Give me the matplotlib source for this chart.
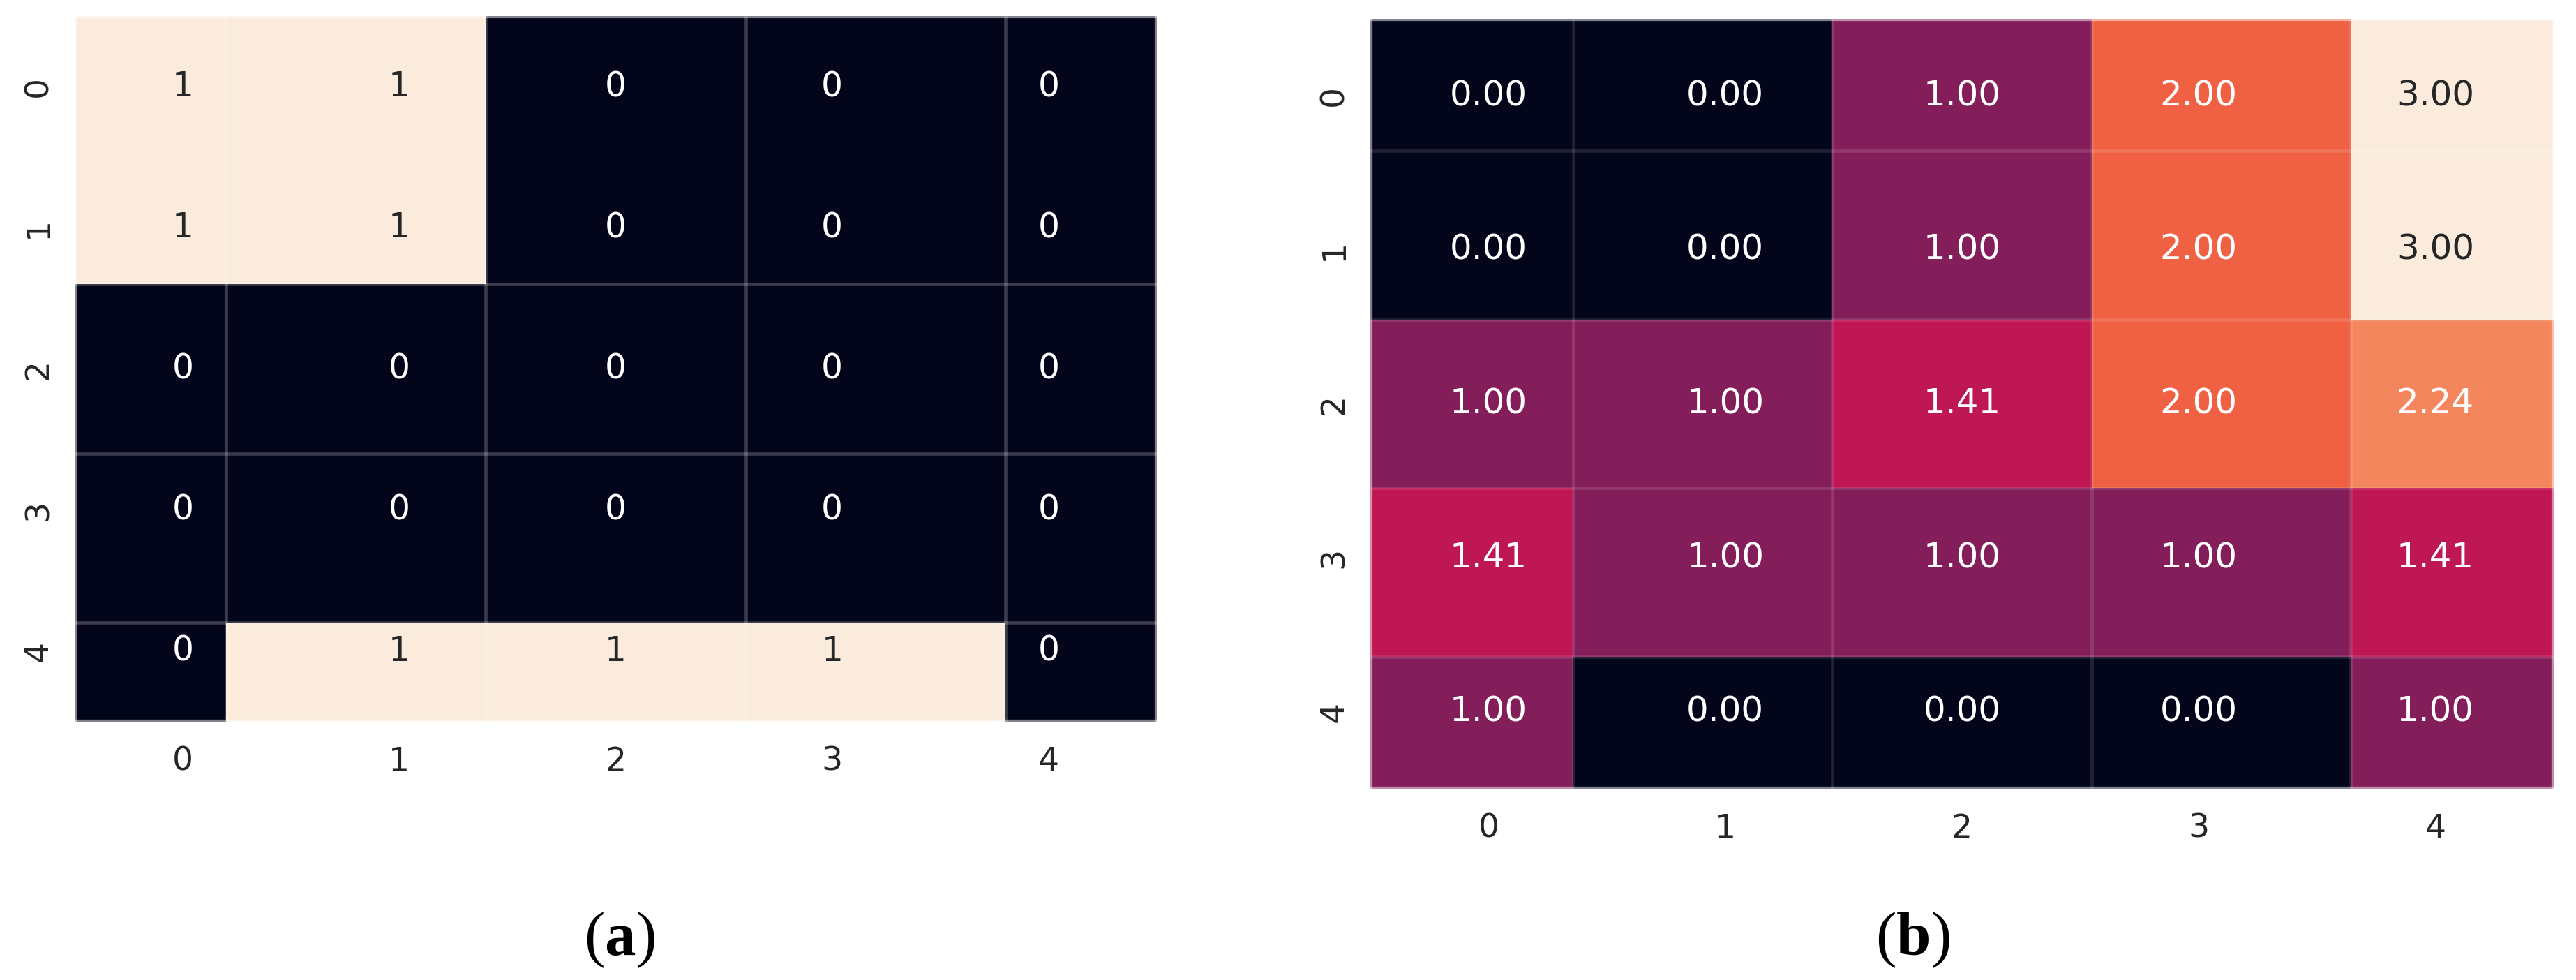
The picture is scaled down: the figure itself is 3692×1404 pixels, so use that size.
import numpy as np
import matplotlib
matplotlib.use("Agg")
import matplotlib.pyplot as plt
import seaborn as sns

# ── Data ───────────────────────────────────────────────────────────────────────
TICK_LABELS = ["0", "1", "2", "3", "4"]

# (a) binary grid
GRID_A = np.array([
    [1, 1, 0, 0, 0],
    [1, 1, 0, 0, 0],
    [0, 0, 0, 0, 0],
    [0, 0, 0, 0, 0],
    [0, 1, 1, 1, 0],
])

# (b) distance values
GRID_B = np.array([
    [0.00, 0.00, 1.00, 2.00, 3.00],
    [0.00, 0.00, 1.00, 2.00, 3.00],
    [1.00, 1.00, 1.41, 2.00, 2.24],
    [1.41, 1.00, 1.00, 1.00, 1.41],
    [1.00, 0.00, 0.00, 0.00, 1.00],
])

# ── Style ──────────────────────────────────────────────────────────────────────
plt.rcParams["font.family"] = ["DejaVu Sans"]
plt.rcParams["mathtext.fontset"] = "custom"
plt.rcParams["mathtext.rm"] = "Liberation Serif"
plt.rcParams["mathtext.bf"] = "Liberation Serif:bold"

CMAP = sns.color_palette("rocket", as_cmap=True)
TEXT_DARK = "#262626"


def rel_lum(rgb):
    c = np.array(rgb[:3], dtype=float)
    c = np.where(c <= 0.03928, c / 12.92, ((c + 0.055) / 1.055) ** 2.4)
    return 0.2126 * c[0] + 0.7152 * c[1] + 0.0722 * c[2]


def draw_heatmap(ax, data, fmt, scale, line_alpha, fs_annot, skip_rows=()):
    n_rows, n_cols = data.shape
    # colour grid is stretched around the centre, text grid stays put
    xe = n_cols / 2 + (np.arange(n_cols + 1) - n_cols / 2) * scale
    ye = n_rows / 2 + (np.arange(n_rows + 1) - n_rows / 2) * scale
    vmin, vmax = data.min(), data.max()
    ax.pcolormesh(xe, ye, data, cmap=CMAP, vmin=vmin, vmax=vmax, zorder=1)

    line_col = (1, 1, 1, line_alpha)
    inner_x = [x for x in xe if 0 < x < n_cols]
    inner_y = [y for k, y in enumerate(ye) if 0 < y < n_rows and k not in skip_rows]
    ax.vlines(inner_x, 0, n_rows, colors=[line_col], linewidth=3.3, zorder=2)
    ax.hlines(inner_y, 0, n_cols, colors=[line_col], linewidth=3.3, zorder=2)

    norm = plt.Normalize(vmin, vmax)
    for i in range(n_rows):
        for j in range(n_cols):
            v = data[i, j]
            col = TEXT_DARK if rel_lum(CMAP(norm(v))) > 0.408 else "white"
            ax.text(j + 0.5, i + 0.5, format(v, fmt), ha="center", va="center",
                    fontsize=fs_annot, color=col, zorder=3)

    ax.set_xlim(0, n_cols)
    ax.set_ylim(n_rows, 0)
    ax.set_xticks(np.arange(n_cols) + 0.5)
    ax.set_xticklabels(TICK_LABELS)
    ax.set_yticks(np.arange(n_rows) + 0.5)
    ax.set_yticklabels(TICK_LABELS, rotation=90, va="center")
    ax.tick_params(length=0, labelsize=34, labelcolor=TEXT_DARK)
    ax.tick_params(axis="x", pad=25)
    ax.tick_params(axis="y", pad=21)
    for sp in ax.spines.values():
        sp.set_color((1, 1, 1, 0.5))
        sp.set_linewidth(4.5)


fig = plt.figure(figsize=(36.92, 14.04), dpi=100)

ax_a = fig.add_axes([0.02898, 0.26353, 0.42010, 0.72009])
draw_heatmap(ax_a, GRID_A, "d", 1.2, 0.22, 35, skip_rows=(1,))

ax_b = fig.add_axes([0.53196, 0.19516, 0.45937, 0.78561])
draw_heatmap(ax_b, GRID_B, ".2f", 1.095, 0.12, 36)

fig.text(0.2405, 0.042, r"$\mathrm{(}\mathbf{a}\mathrm{)}$", ha="center", va="center",
         fontsize=64, color="black")
fig.text(0.7424, 0.042, r"$\mathrm{(}\mathbf{b}\mathrm{)}$", ha="center", va="center",
         fontsize=64, color="black")

fig.savefig("out.png", dpi=100)
